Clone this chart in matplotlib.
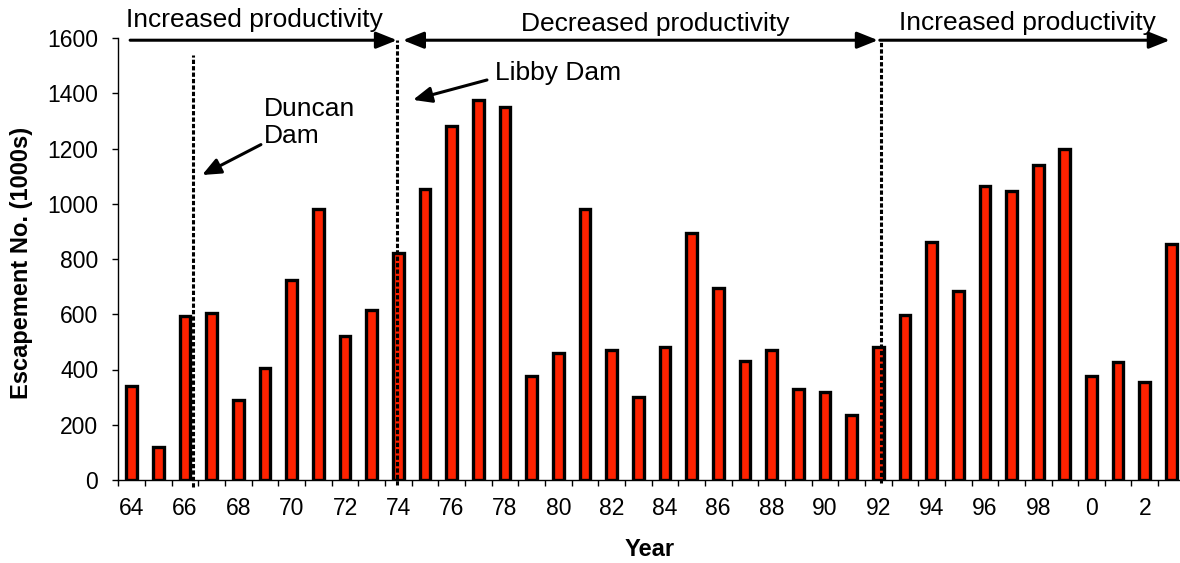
import matplotlib
matplotlib.use("Agg")
import matplotlib.pyplot as plt
import numpy as np

plt.rcParams['font.family'] = ['Liberation Sans', 'DejaVu Sans']

# escapement by year (64 .. 103 -> 1964 .. 2003), thousands
years = np.arange(64, 104)
escapement = [340, 120, 595, 605, 290, 405, 725, 980, 520, 615,
              820, 1055, 1280, 1375, 1350, 375, 460, 980, 470, 300,
              480, 895, 695, 430, 470, 330, 320, 237, 480, 597,
              860, 685, 1065, 1045, 1140, 1200, 377, 427, 355, 855]
tick_years = np.arange(64, 104, 2)
tick_labels = [str(y % 100) for y in tick_years]

# dam / regime change markers (x position in years)
duncan_x = 66.3
libby_x = 73.95
regime_x = 92.1

fig = plt.figure(figsize=(11.8, 5.63), dpi=100)
ax = fig.add_axes([118.4 / 1180, 83 / 563, 1066.4 / 1180, 442 / 563])

ax.bar(years, escapement, width=0.4, color='#ff2200', edgecolor='black', linewidth=2.4, zorder=2)

ax.set_xlim(63.5, 103.5)
ax.set_ylim(0, 1600)
ax.set_yticks(np.arange(0, 1601, 200))
ax.tick_params(axis='y', labelsize=16.5, length=4.5, width=1, pad=10, direction='out')

# ticks between categories, labels under every second category
ax.set_xticks(np.arange(63.5, 104, 1))
ax.set_xticklabels([])
ax.set_xticks(tick_years, minor=True)
ax.set_xticklabels(tick_labels, minor=True)
ax.tick_params(axis='x', which='major', length=4.5, width=1, direction='out')
ax.tick_params(axis='x', which='minor', length=0, labelsize=16.5, pad=12.5)

for s in ['top', 'right']:
    ax.spines[s].set_visible(False)
for s in ['left', 'bottom']:
    ax.spines[s].set_linewidth(1)

ax.set_ylabel('Escapement No. (1000s)', fontsize=17, fontweight='bold')
ax.yaxis.set_label_coords(-0.080, 0.49)
ax.set_xlabel('Year', fontsize=17, fontweight='bold')
ax.xaxis.set_label_coords(0.4985, -0.131)

# dashed vertical markers
for x, y0, y1 in [(duncan_x, -25, 1538), (libby_x, -18, 1593), (regime_x, -10, 1585)]:
    ax.plot([x, x], [y0, y1], color='black', lw=2.2, linestyle=(0, (1.4, 0.7)),
            clip_on=False, zorder=3)

# productivity arrows along the top
head = dict(color='black', lw=2.2, shrinkA=0, shrinkB=0, mutation_scale=18)
ax.annotate('', xy=(libby_x, 1592), xytext=(63.94, 1592), annotation_clip=False,
            arrowprops=dict(arrowstyle='-|>,head_length=0.7,head_width=0.28', **head))
ax.annotate('', xy=(91.99, 1592), xytext=(74.17, 1592), annotation_clip=False,
            arrowprops=dict(arrowstyle='<|-|>,head_length=0.7,head_width=0.28', **head))
ax.annotate('', xy=(102.94, 1592), xytext=(92.06, 1592), annotation_clip=False,
            arrowprops=dict(arrowstyle='-|>,head_length=0.7,head_width=0.28', **head))

ax.text(68.59, 1640, 'Increased productivity', fontsize=19, ha='center', va='baseline', clip_on=False)
ax.text(83.63, 1625, 'Decreased productivity', fontsize=19, ha='center', va='baseline', clip_on=False)
ax.text(97.61, 1629, 'Increased productivity', fontsize=19, ha='center', va='baseline', clip_on=False)

# dam annotations
ax.annotate('Duncan\nDam', xy=(66.64, 1104), xytext=(68.95, 1385), fontsize=19,
            ha='left', va='top', linespacing=1.15,
            arrowprops=dict(arrowstyle='-|>,head_length=0.7,head_width=0.3', color='black',
                            lw=2.2, shrinkA=0, shrinkB=0, mutation_scale=16,
                            relpos=(0.0, 0.1)))
ax.annotate('Libby Dam', xy=(74.55, 1376), xytext=(77.63, 1448), fontsize=19,
            ha='left', va='baseline',
            arrowprops=dict(arrowstyle='-|>,head_length=0.7,head_width=0.3', color='black',
                            lw=2.2, shrinkA=4, shrinkB=0, mutation_scale=16,
                            relpos=(0.0, 0.3)))

fig.savefig('out.png', dpi=100)
